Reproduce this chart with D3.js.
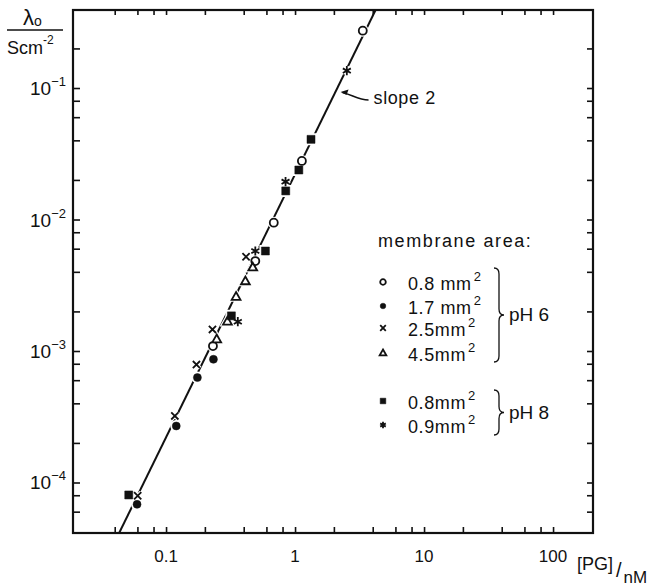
<!DOCTYPE html>
<html>
<head>
<meta charset="utf-8">
<script src="https://cdn.jsdelivr.net/npm/d3@7"></script>
<style>
  body { margin: 0; background: #fff; }
  svg text { font-family: "Liberation Sans", Arial, sans-serif; fill: #111; }
</style>
</head>
<body>
<svg id="chart" width="671" height="587"></svg>
<script>
// DATA ([PG] in nM, lambda_o in S cm^-2)
// pH 6
var circOpenX = [3.35, 1.13, 0.684, 0.492, 0.231];
var circOpenY = [0.273, 0.0279, 0.00946, 0.00483, 0.00109];
var circFillX = [0.233, 0.175, 0.120, 0.0596];
var circFillY = [8.65e-4, 6.28e-4, 2.69e-4, 6.82e-5];
var crossX = [0.417, 0.229, 0.172, 0.117, 0.0603];
var crossY = [5.21e-3, 1.46e-3, 7.88e-4, 3.21e-4, 7.94e-5];
var triX = [0.470, 0.412, 0.349, 0.299, 0.247];
var triY = [4.33e-3, 3.40e-3, 2.59e-3, 1.68e-3, 1.23e-3];
// pH 8
var squareX = [1.33, 1.07, 0.847, 0.589, 0.321, 0.0514];
var squareY = [0.0407, 0.0238, 0.0165, 5.76e-3, 1.85e-3, 8.04e-5];
var starX = [2.52, 0.844, 0.492, 0.360];
var starY = [0.1355, 0.0194, 5.76e-3, 1.67e-3];

// slope 2 line, end points
var fitX = [0.0433, 4.21];
var fitY = [4.13e-5, 0.392];

// axes
var xDomain = [0.0190, 204];
var yDomain = [4.13e-5, 0.392];
var xTicks = [0.04, 0.06, 0.08, 0.1, 0.2, 0.4, 0.6, 0.8, 1, 2, 4, 6, 8, 10, 20, 40, 60, 80, 100];
var yTicks = [6e-5, 8e-5, 1e-4, 2e-4, 4e-4, 6e-4, 8e-4, 1e-3, 2e-3, 4e-3, 6e-3, 8e-3,
              1e-2, 2e-2, 4e-2, 6e-2, 8e-2, 0.1, 0.2];
var xLabelVals = [0.1, 1, 10, 100];
var xLabelText = ["0.1", "1", "10", "100"];
var yLabelExp = [-1, -2, -3, -4];

// legend
var legendTypes = ["circOpen", "circFill", "cross", "tri", "square", "star"];
var legendText = ["0.8 mm", "1.7 mm", "2.5mm", "4.5mm", "0.8mm", "0.9mm"];

// LAYOUT
var L = 73, R = 593, T = 10, B = 533;
var svg = d3.select("#chart");

var x = d3.scaleLog().domain(xDomain).range([L, R]);
var y = d3.scaleLog().domain(yDomain).range([B, T]);

// ticks on all four sides, pointing inward
svg.append("g").attr("transform", "translate(0," + B + ")")
    .call(d3.axisBottom(x).tickValues(xTicks).tickSize(-6).tickFormat(""));
svg.append("g").attr("transform", "translate(0," + T + ")")
    .call(d3.axisTop(x).tickValues(xTicks).tickSize(-5).tickFormat(""));
svg.append("g").attr("transform", "translate(" + L + ",0)")
    .call(d3.axisLeft(y).tickValues(yTicks).tickSize(-7).tickFormat(""));
svg.append("g").attr("transform", "translate(" + R + ",0)")
    .call(d3.axisRight(y).tickValues(yTicks).tickSize(-6).tickFormat(""));
svg.selectAll(".domain").remove();
svg.selectAll(".tick line").attr("stroke", "#111").attr("stroke-width", 1.6);

svg.append("rect")
    .attr("x", L).attr("y", T).attr("width", R - L).attr("height", B - T)
    .attr("fill", "none").attr("stroke", "#111").attr("stroke-width", 2.2);

// tick labels
svg.selectAll(".xlab").data(xLabelVals).enter().append("text")
    .attr("x", function(d) { return x(d); })
    .attr("y", B + 29)
    .attr("text-anchor", "middle")
    .attr("font-size", 17)
    .text(function(d, i) { return xLabelText[i]; });

yLabelExp.forEach(function(e) {
    var t = svg.append("text")
        .attr("x", L - 7)
        .attr("y", y(Math.pow(10, e)) + 7)
        .attr("text-anchor", "end")
        .attr("font-size", 19);
    t.append("tspan").text("10");
    t.append("tspan").attr("font-size", 13).attr("dy", -9).text("\u2212" + Math.abs(e));
});

// axis titles
var yt = svg.append("text").attr("x", 23).attr("y", 25).attr("font-size", 22);
yt.append("tspan").text("\u03bb");
yt.append("tspan").attr("font-size", 14).attr("dy", 1).text("o");
svg.append("line").attr("x1", 7).attr("x2", 63).attr("y1", 30).attr("y2", 30)
    .attr("stroke", "#111").attr("stroke-width", 1.6);
var yt2 = svg.append("text").attr("x", 7).attr("y", 54).attr("font-size", 18);
yt2.append("tspan").text("Scm");
yt2.append("tspan").attr("font-size", 12).attr("dy", -10).text("-2");

var xt = svg.append("text").attr("x", 577).attr("y", 570).attr("font-size", 18);
xt.append("tspan").text("[PG]");
xt.append("tspan").attr("font-size", 20).attr("dx", 3).attr("dy", 7).text("/");
xt.append("tspan").attr("font-size", 17).attr("dx", 2).attr("dy", 6).text("nM");

// clip for the fit line
svg.append("clipPath").attr("id", "plotclip").append("rect")
    .attr("x", L).attr("y", T).attr("width", R - L).attr("height", B - T);

var line = d3.line().x(function(d) { return x(d[0]); }).y(function(d) { return y(d[1]); });
svg.append("path")
    .datum(d3.zip(fitX, fitY))
    .attr("clip-path", "url(#plotclip)")
    .attr("d", line)
    .attr("fill", "none").attr("stroke", "#111").attr("stroke-width", 2);

// MARKERS
function markerPath(type, r) {
    if (type === "circOpen" || type === "circFill")
        return d3.symbol(d3.symbolCircle, Math.PI * r * r)();
    if (type === "square")
        return d3.symbol(d3.symbolSquare, 4 * r * r)();
    if (type === "tri")
        return "M0," + (-r * 1.1) + "L" + (r * 1.05) + "," + (r * 0.75) + "L" + (-r * 1.05) + "," + (r * 0.75) + "Z";
    if (type === "cross")
        return "M" + -r + "," + -r + "L" + r + "," + r + "M" + -r + "," + r + "L" + r + "," + -r;
    if (type === "star") {
        var p = "";
        [90, 30, 150].forEach(function(a) {
            var c = Math.cos(a * Math.PI / 180) * r * 1.15, s = Math.sin(a * Math.PI / 180) * r * 1.15;
            p += "M" + -c + "," + -s + "L" + c + "," + s;
        });
        return p;
    }
}

function styleMarker(sel, type, halo) {
    var filled = (type === "circFill" || type === "square");
    var stroked = (type === "circOpen" || type === "tri" || type === "cross" || type === "star");
    if (halo) {
        sel.attr("fill", "#fff").attr("stroke", "#fff").attr("stroke-width", 4);
    } else {
        sel.attr("fill", filled ? "#111" : (type === "cross" || type === "star" ? "none" : "#fff"))
           .attr("stroke", "#111")
           .attr("stroke-width", stroked ? 1.8 : 0.5);
    }
}

var series = [
    {type: "circOpen", xs: circOpenX, ys: circOpenY, r: 4},
    {type: "circFill", xs: circFillX, ys: circFillY, r: 4},
    {type: "cross", xs: crossX, ys: crossY, r: 3.6},
    {type: "tri", xs: triX, ys: triY, r: 4.2},
    {type: "square", xs: squareX, ys: squareY, r: 4},
    {type: "star", xs: starX, ys: starY, r: 4}
];

[true, false].forEach(function(halo) {
    series.forEach(function(s) {
        var sel = svg.append("g").selectAll("path").data(d3.zip(s.xs, s.ys)).enter().append("path")
            .attr("transform", function(d) { return "translate(" + x(d[0]) + "," + y(d[1]) + ")"; })
            .attr("d", markerPath(s.type, s.r));
        styleMarker(sel, s.type, halo);
    });
});

// slope annotation
var tipX = x(2.06) + 5, tipY = y(0.0933);
svg.append("path")
    .attr("d", "M" + (tipX + 28) + "," + (tipY + 8) + " C" + (tipX + 18) + "," + (tipY + 8) + " " + (tipX + 12) + "," + (tipY + 3) + " " + (tipX + 2) + "," + (tipY + 0.5))
    .attr("fill", "none").attr("stroke", "#111").attr("stroke-width", 1.6);
svg.append("path")
    .attr("d", "M" + tipX + "," + tipY + "l8,-2.5 l-2,5.5z")
    .attr("fill", "#111");
svg.append("text").attr("x", tipX + 33).attr("y", tipY + 12).attr("font-size", 18)
    .attr("letter-spacing", 0.6).text("slope 2");

// LEGEND
var lg = svg.append("g");
lg.append("text").attr("x", 378).attr("y", 247).attr("font-size", 18)
    .attr("letter-spacing", 1.6).text("membrane area:");

var rowY = [282, 306, 328, 353, 401, 425];
legendTypes.forEach(function(t, i) {
    var m = lg.append("path")
        .attr("transform", "translate(383," + rowY[i] + ")")
        .attr("d", markerPath(t, t === "tri" ? 3.2 : 2.8));
    styleMarker(m, t, false);
    var txt = lg.append("text").attr("x", 408).attr("y", rowY[i] + 8).attr("font-size", 18)
        .attr("letter-spacing", 0.6);
    txt.append("tspan").text(legendText[i]);
    txt.append("tspan").attr("font-size", 13).attr("dy", -9).attr("dx", 2).text("2");
});

function brace(top, bottom, xb) {
    var mid = (top + bottom) / 2;
    return "M" + (xb - 5) + "," + top + " Q" + xb + "," + top + " " + xb + "," + (top + 6) +
        " L" + xb + "," + (mid - 6) + " Q" + xb + "," + mid + " " + (xb + 5) + "," + mid +
        " Q" + xb + "," + mid + " " + xb + "," + (mid + 6) +
        " L" + xb + "," + (bottom - 6) + " Q" + xb + "," + bottom + " " + (xb - 5) + "," + bottom;
}
lg.append("path").attr("d", brace(268, 362, 499)).attr("fill", "none").attr("stroke", "#111").attr("stroke-width", 1.3);
lg.append("path").attr("d", brace(390, 435, 499)).attr("fill", "none").attr("stroke", "#111").attr("stroke-width", 1.3);
lg.append("text").attr("x", 509).attr("y", 321).attr("font-size", 19).text("pH 6");
lg.append("text").attr("x", 509).attr("y", 419).attr("font-size", 19).text("pH 8");
</script>
</body>
</html>
